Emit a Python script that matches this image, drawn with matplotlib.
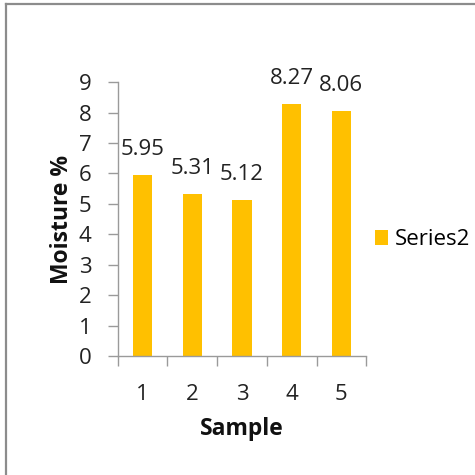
import matplotlib.pyplot as plt
from matplotlib.lines import Line2D

samples = ["1", "2", "3", "4", "5"]
moisture = [5.95, 5.31, 5.12, 8.27, 8.06]
series_name = "Series2"

plt.rcParams["font.family"] = ["Open Sans", "DejaVu Sans"]

fig = plt.figure(figsize=(4.75, 4.75), dpi=100)
ax = fig.add_axes([0.248, 0.2505, 0.523, 0.5765])

axis_grey = "#9a9a9a"
bar_col = "#FFC000"
txt_col = "#222222"

x = range(len(samples))
bars = ax.bar(x, moisture, width=0.39, color=bar_col, label=series_name, zorder=2)

for b, v in zip(bars, moisture):
    ax.text(b.get_x() + b.get_width() / 2, v + 0.5, f"{v:.2f}",
            ha="center", va="bottom", fontsize=16, color=txt_col)

ax.set_xlim(-0.5, len(samples) - 0.5)
ax.set_ylim(0, 9)
ax.set_yticks(range(0, 10))
ax.set_xticks(list(x))
ax.set_xticklabels(samples)
# tick marks sit between categories, labels at category centres
ax.set_xticks([i - 0.5 for i in range(len(samples) + 1)], minor=True)
ax.tick_params(axis="x", which="major", length=0, pad=20, labelsize=16, labelcolor=txt_col)
ax.tick_params(axis="x", which="minor", length=7, width=1, color=axis_grey)
ax.tick_params(axis="y", length=7, width=1, color=axis_grey, labelsize=16, labelcolor=txt_col, pad=12)

for side in ("top", "right"):
    ax.spines[side].set_visible(False)
for side in ("left", "bottom"):
    ax.spines[side].set_color(axis_grey)
    ax.spines[side].set_linewidth(1)

ax.set_ylabel("Moisture %", fontsize=16.5, fontweight="bold", color="#111111", labelpad=3)
ax.set_xlabel("Sample", fontsize=16.5, fontweight="bold", color="#111111", labelpad=9)

fig.legend(handles=bars[:1], labels=[series_name], loc="center left",
           bbox_to_anchor=(0.77, 0.495), frameon=False, fontsize=16,
           handlelength=0.6, handleheight=0.6, handletextpad=0.3, borderaxespad=0)

# chart area border (left and top edges)
fig.add_artist(Line2D([0.013, 0.013], [0.0, 0.991], transform=fig.transFigure,
                      color="#8c8c8c", lw=1.6))
fig.add_artist(Line2D([0.012, 1.0], [0.991, 0.991], transform=fig.transFigure,
                      color="#8c8c8c", lw=1.6))

fig.savefig("out.png", dpi=100, facecolor="white")
